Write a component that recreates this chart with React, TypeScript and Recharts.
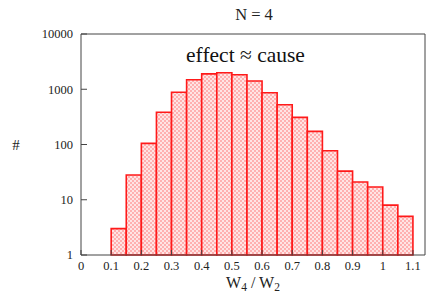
import { ComposedChart, XAxis, YAxis, ReferenceArea } from 'recharts';

// histogram bins (lower edge) and counts
const binStart = [0.1, 0.15, 0.2, 0.25, 0.3, 0.35, 0.4, 0.45, 0.5, 0.55, 0.6, 0.65, 0.7, 0.75, 0.8, 0.85, 0.9, 0.95, 1.0, 1.05];
const counts = [3, 28, 105, 383, 880, 1490, 1900, 1990, 1830, 1410, 865, 525, 310, 173, 77, 33, 21, 17, 8, 5];
const binWidth = 0.05;

const xTicks = [0, 0.1, 0.2, 0.3, 0.4, 0.5, 0.6, 0.7, 0.8, 0.9, 1, 1.1];
const yTicks = [1, 10, 100, 1000, 10000];

const minorTicks: number[] = [];
[1, 10, 100, 1000].forEach((d) => {
  for (let k = 2; k <= 9; k++) minorTicks.push(k * d);
});

const bins = binStart.map((lo, i) => ({ lo, hi: +(lo + binWidth).toFixed(2), count: counts[i] }));

const FONT = '"Liberation Serif", serif';
const AXIS = '#444';

export default function App() {
  const tickStyle = { fontFamily: FONT, fontSize: 12.5, fill: '#222' };

  return (
    <div style={{ position: 'absolute', left: 0, top: 0, width: 427, height: 294, background: '#fff', fontFamily: FONT }}>
      <ComposedChart
        width={427}
        height={294}
        data={bins}
        margin={{ top: 33, right: 1, bottom: 9, left: 0 }}
      >
        <defs>
          <pattern id="hatch" width="4" height="4" patternUnits="userSpaceOnUse">
            <rect x="0" y="0" width="4" height="4" fill="#ffe4e4" />
            <rect x="0" y="0" width="2" height="2" fill="#ffb0b0" />
            <rect x="2" y="2" width="2" height="2" fill="#ffb0b0" />
          </pattern>
        </defs>

        <XAxis
          xAxisId="x"
          type="number"
          dataKey="lo"
          domain={[0, 1.14]}
          ticks={xTicks}
          interval={0}
          allowDataOverflow
          height={30}
          tickSize={-5}
          tickMargin={11}
          tickLine={{ stroke: AXIS }}
          axisLine={{ stroke: AXIS }}
          tick={tickStyle}
          label={{
            content: (props: any) => {
              const vb = props.viewBox;
              const cx = vb.x + vb.width / 2;
              return (
                <text x={cx} y={288} textAnchor="middle" fontFamily={FONT} fontSize={16} fill="#222">
                  W<tspan fontSize={11.5} dy={3}>4</tspan>
                  <tspan dy={-3}> / W</tspan>
                  <tspan fontSize={11.5} dy={3}>2</tspan>
                </text>
              );
            },
          }}
        />
        <XAxis
          xAxisId="top"
          orientation="top"
          type="number"
          domain={[0, 1.14]}
          ticks={xTicks}
          interval={0}
          allowDataOverflow
          height={1}
          tickSize={-5}
          tick={false}
          axisLine={{ stroke: AXIS }}
          tickLine={{ stroke: AXIS }}
        />

        <YAxis
          yAxisId="y"
          scale="log"
          domain={[1, 10000]}
          ticks={yTicks}
          interval={0}
          allowDataOverflow
          width={81}
          tickSize={-6}
          tickMargin={14}
          tickLine={{ stroke: AXIS }}
          axisLine={{ stroke: AXIS }}
          tick={tickStyle}
          label={{
            content: (props: any) => {
              const vb = props.viewBox;
              return (
                <text x={16} y={vb.y + vb.height / 2 + 5} textAnchor="middle" fontFamily={FONT} fontSize={15} fill="#222">
                  #
                </text>
              );
            },
          }}
        />
        <YAxis
          yAxisId="yMinorL"
          scale="log"
          domain={[1, 10000]}
          ticks={minorTicks}
          interval={0}
          allowDataOverflow
          mirror
          width={1}
          tick={false}
          tickSize={3}
          axisLine={false}
          tickLine={{ stroke: AXIS }}
        />
        <YAxis
          yAxisId="yR"
          orientation="right"
          scale="log"
          domain={[1, 10000]}
          ticks={yTicks}
          interval={0}
          allowDataOverflow
          width={1}
          tickSize={-6}
          tick={false}
          axisLine={{ stroke: AXIS }}
          tickLine={{ stroke: AXIS }}
        />
        <YAxis
          yAxisId="yMinorR"
          orientation="right"
          scale="log"
          domain={[1, 10000]}
          ticks={minorTicks}
          interval={0}
          allowDataOverflow
          mirror
          width={1}
          tick={false}
          tickSize={3}
          axisLine={false}
          tickLine={{ stroke: AXIS }}
        />

        {bins.map((b) => (
          <ReferenceArea
            key={b.lo}
            xAxisId="x"
            yAxisId="y"
            x1={b.lo}
            x2={b.hi}
            y1={1}
            y2={b.count}
            fill="url(#hatch)"
            fillOpacity={1}
            stroke="#ff1a1a"
            strokeWidth={1.6}
            ifOverflow="visible"
          />
        ))}
      </ComposedChart>

      <div
        style={{
          position: 'absolute', left: 154, width: 200, top: 7.2, textAlign: 'center',
          fontFamily: FONT, fontSize: 16.5, lineHeight: 1, color: '#222',
        }}
      >
        N = 4
      </div>
      <div
        style={{
          position: 'absolute', left: 145.5, width: 200, top: 45, textAlign: 'center',
          fontFamily: FONT, fontSize: 21.5, lineHeight: 1, color: '#111',
        }}
      >
        effect ≈ cause
      </div>
    </div>
  );
}
